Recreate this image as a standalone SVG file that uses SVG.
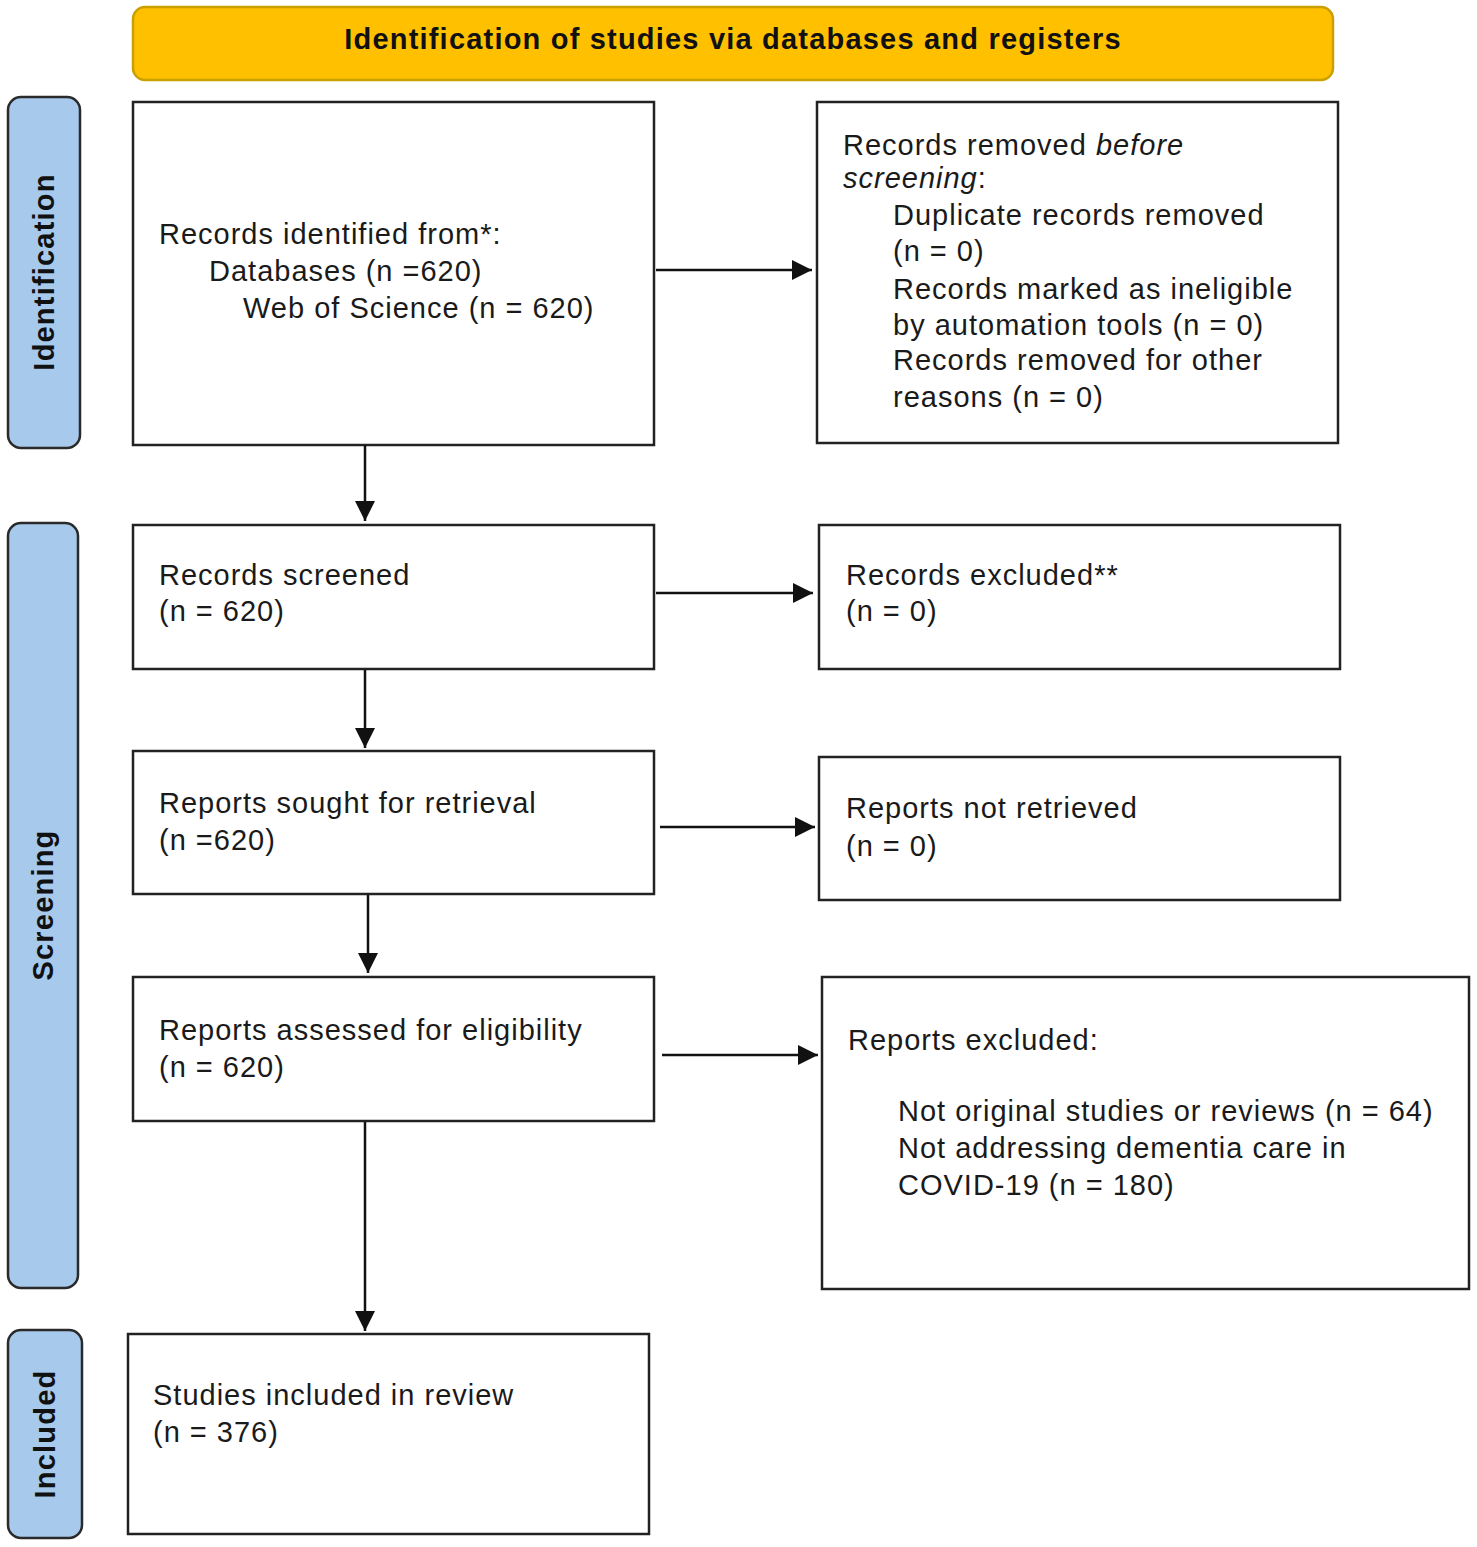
<svg xmlns="http://www.w3.org/2000/svg" width="1477" height="1547" viewBox="0 0 1477 1547">
<defs>
<style>
.box{fill:#fff;stroke:#222;stroke-width:2.5}
.side{fill:#a6c9ec;stroke:#2a2a2a;stroke-width:2.5}
.t{font-family:"Liberation Sans",Arial,sans-serif;font-size:29px;letter-spacing:1px;fill:#1a1a1a}
.b{font-family:"Liberation Sans",Arial,sans-serif;font-size:29px;letter-spacing:1.2px;font-weight:bold;fill:#111}
.c{stroke:#111;stroke-width:2.5;fill:none;marker-end:url(#ah)}
</style>
<marker id="ah" viewBox="0 0 10 10" refX="10" refY="5" markerWidth="20" markerHeight="20" markerUnits="userSpaceOnUse" orient="auto">
<path d="M0,0 L10,5 L0,10 z" fill="#111"/>
</marker>
</defs>
<rect width="1477" height="1547" fill="#fff"/>
<g id="header">
<rect x="133" y="7" width="1200" height="73" rx="12" fill="#ffc000" stroke="#c9a000" stroke-width="2.5"/>
<text class="b" x="733" y="49" text-anchor="middle">Identification of studies via databases and registers</text>
</g>
<g id="side-identification">
<rect class="side" x="8" y="97" width="72" height="351" rx="13"/>
<text class="b" transform="translate(54,272) rotate(-90)" text-anchor="middle">Identification</text>
</g>
<g id="side-screening">
<rect class="side" x="8" y="523" width="70" height="765" rx="13"/>
<text class="b" transform="translate(53,905) rotate(-90)" text-anchor="middle">Screening</text>
</g>
<g id="side-included">
<rect class="side" x="8" y="1330" width="74" height="208" rx="13"/>
<text class="b" transform="translate(55,1434) rotate(-90)" text-anchor="middle">Included</text>
</g>
<g id="records-identified">
<rect class="box" x="133" y="102" width="521" height="343"/>
<text class="t" x="159" y="244">Records identified from*:</text>
<text class="t" x="209" y="281">Databases (n =620)</text>
<text class="t" x="243" y="318">Web of Science (n = 620)</text>
</g>
<g id="records-removed">
<rect class="box" x="817" y="102" width="521" height="341"/>
<text class="t" x="843" y="155">Records removed <tspan font-style="italic">before</tspan></text>
<text class="t" x="843" y="188"><tspan font-style="italic">screening</tspan>:</text>
<text class="t" x="893" y="225">Duplicate records removed</text>
<text class="t" x="893" y="261">(n = 0)</text>
<text class="t" x="893" y="299">Records marked as ineligible</text>
<text class="t" x="893" y="335">by automation tools (n = 0)</text>
<text class="t" x="893" y="370">Records removed for other</text>
<text class="t" x="893" y="407">reasons (n = 0)</text>
</g>
<g id="records-screened">
<rect class="box" x="133" y="525" width="521" height="144"/>
<text class="t" x="159" y="585">Records screened</text>
<text class="t" x="159" y="621">(n = 620)</text>
</g>
<g id="records-excluded">
<rect class="box" x="819" y="525" width="521" height="144"/>
<text class="t" x="846" y="585">Records excluded**</text>
<text class="t" x="846" y="621">(n = 0)</text>
</g>
<g id="reports-sought">
<rect class="box" x="133" y="751" width="521" height="143"/>
<text class="t" x="159" y="813">Reports sought for retrieval</text>
<text class="t" x="159" y="850">(n =620)</text>
</g>
<g id="reports-not-retrieved">
<rect class="box" x="819" y="757" width="521" height="143"/>
<text class="t" x="846" y="818">Reports not retrieved</text>
<text class="t" x="846" y="856">(n = 0)</text>
</g>
<g id="reports-assessed">
<rect class="box" x="133" y="977" width="521" height="144"/>
<text class="t" x="159" y="1040">Reports assessed for eligibility</text>
<text class="t" x="159" y="1077">(n = 620)</text>
</g>
<g id="reports-excluded">
<rect class="box" x="822" y="977" width="647" height="312"/>
<text class="t" x="848" y="1050">Reports excluded:</text>
<text class="t" x="898" y="1121">Not original studies or reviews (n = 64)</text>
<text class="t" x="898" y="1158">Not addressing dementia care in</text>
<text class="t" x="898" y="1195">COVID-19 (n = 180)</text>
</g>
<g id="studies-included">
<rect class="box" x="128" y="1334" width="521" height="200"/>
<text class="t" x="153" y="1405">Studies included in review</text>
<text class="t" x="153" y="1442">(n = 376)</text>
</g>
<g id="connectors">
<line class="c" x1="656" y1="270" x2="812" y2="270"/>
<line class="c" x1="365" y1="445" x2="365" y2="521"/>
<line class="c" x1="656" y1="593" x2="813" y2="593"/>
<line class="c" x1="365" y1="670" x2="365" y2="748"/>
<line class="c" x1="660" y1="827" x2="815" y2="827"/>
<line class="c" x1="368" y1="895" x2="368" y2="973"/>
<line class="c" x1="662" y1="1055" x2="818" y2="1055"/>
<line class="c" x1="365" y1="1122" x2="365" y2="1331"/>
</g>
</svg>
